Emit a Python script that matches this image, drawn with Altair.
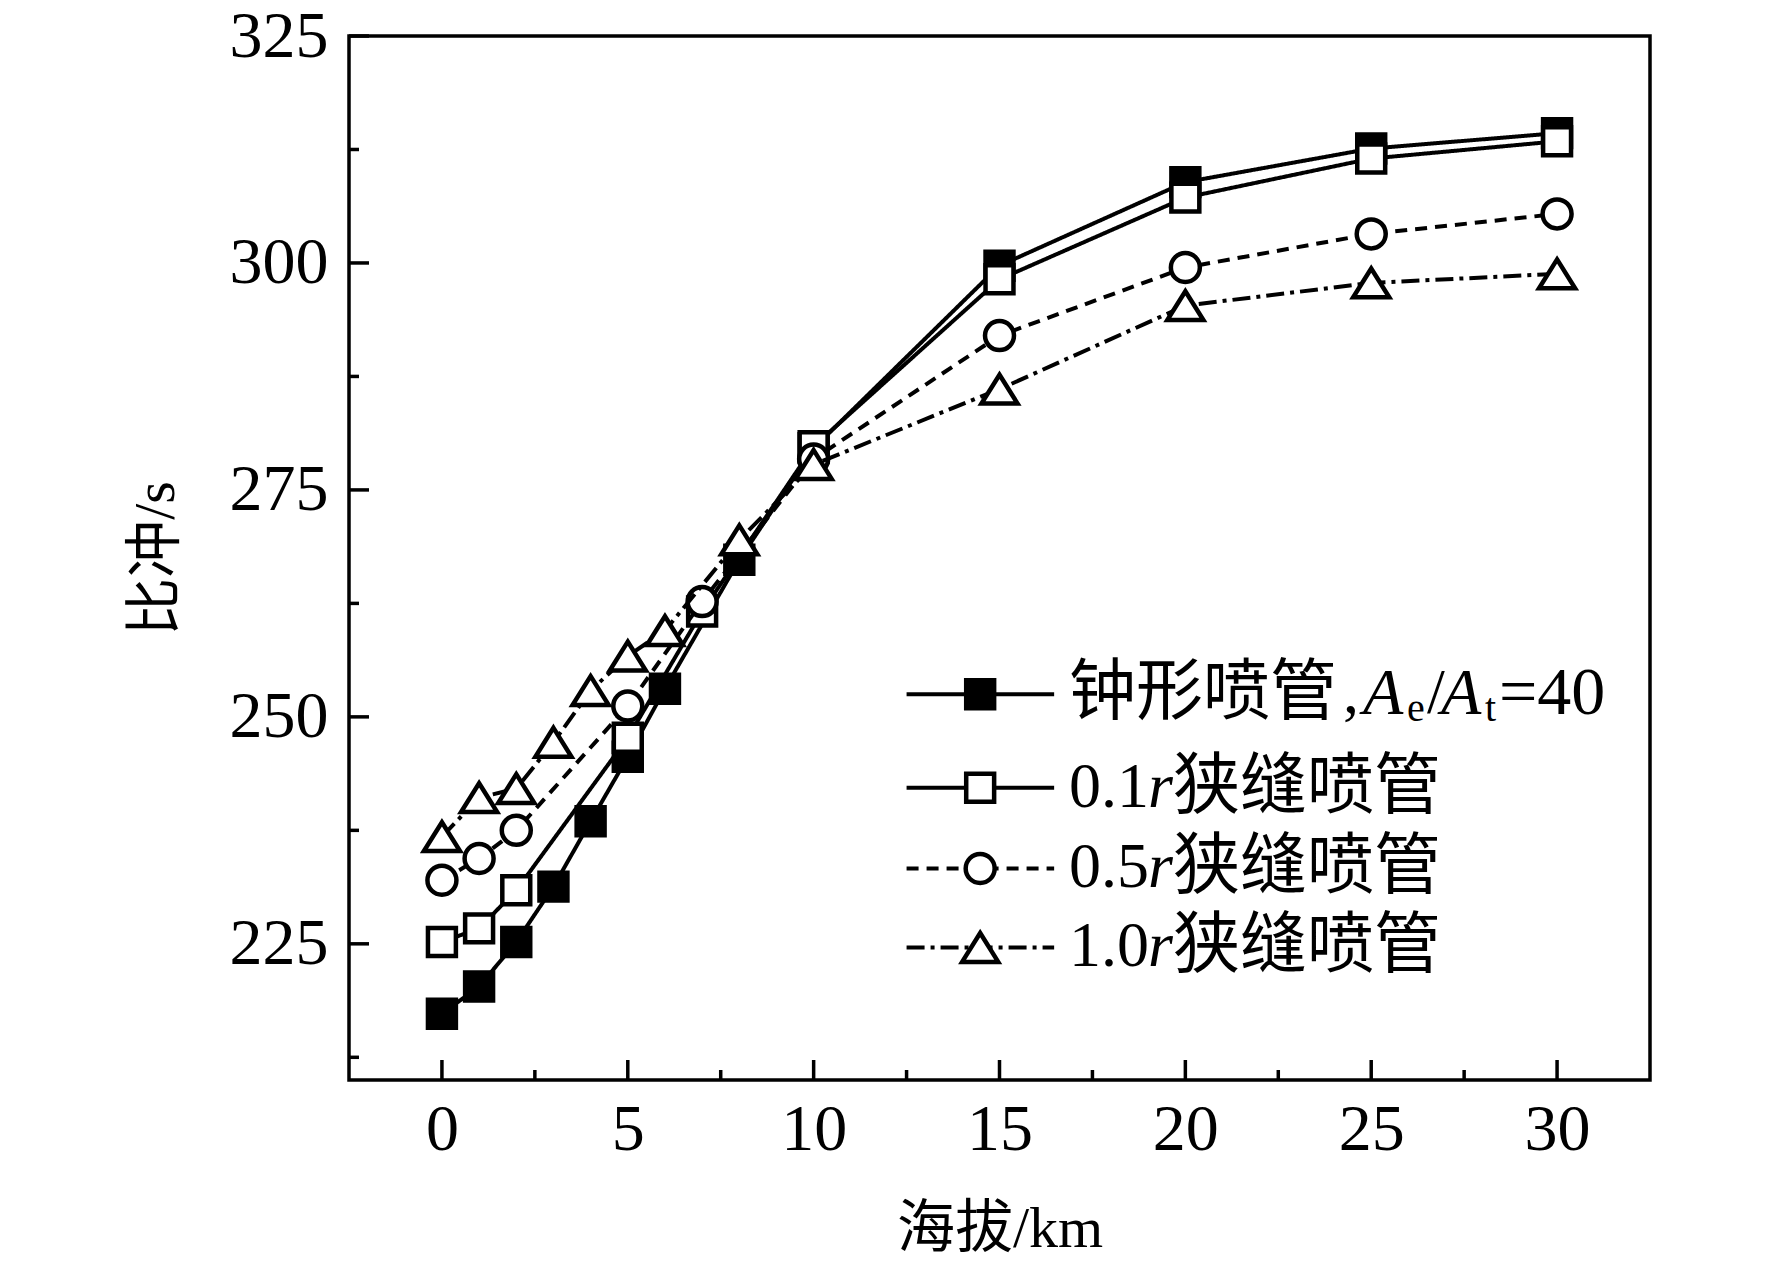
"""Specific impulse vs altitude for bell and slit nozzles."""
import pandas as pd
import altair as alt

# --- data ---
altitude_bell = [0, 1, 2, 3, 4, 5, 6, 8, 10, 15, 20, 25, 30]
isp_bell = [217.3, 220.3, 225.2, 231.3, 238.5, 245.6, 253.1, 267.3, 279.6, 299.7, 308.9, 312.6, 314.3]

altitude_01r = [0, 1, 2, 5, 7, 10, 15, 20, 25, 30]
isp_01r = [225.2, 226.7, 230.9, 247.7, 261.6, 279.8, 298.2, 307.2, 311.5, 313.4]

altitude_05r = [0, 1, 2, 5, 7, 10, 15, 20, 25, 30]
isp_05r = [232.0, 234.4, 237.5, 251.2, 262.7, 278.4, 292.0, 299.5, 303.2, 305.4]

altitude_10r = [0, 1, 2, 3, 4, 5, 6, 8, 10, 15, 20, 25, 30]
isp_10r = [236.8, 241.1, 242.1, 247.2, 252.9, 256.7, 259.5, 269.5, 277.8, 286.1, 295.3, 297.8, 298.8]

x_major = [0, 5, 10, 15, 20, 25, 30]
x_minor = [2.5, 7.5, 12.5, 17.5, 22.5, 27.5]
y_major = [225, 250, 275, 300, 325]
y_minor = [212.5, 237.5, 262.5, 287.5, 312.5]

W, H = 1301, 1044
FONT = "Liberation Serif, Noto Sans CJK SC"
X_SCALE = alt.Scale(domain=[-2.5, 32.5], nice=False, zero=False)
Y_SCALE = alt.Scale(domain=[210, 325], nice=False, zero=False)

TRIANGLE = "M0,-0.8L1,0.8L-1,0.8Z"
LW = 4

styles = {
    "bell": dict(shape="square", fill="black", size=780, dash=[1, 0]),
    "01r": dict(shape="square", fill="white", size=780, dash=[1, 0]),
    "05r": dict(shape="circle", fill="white", size=840, dash=[12, 8]),
    "10r": dict(shape=TRIANGLE, fill="white", size=1300, dash=[18, 6, 4, 6]),
}

series = {
    "bell": (altitude_bell, isp_bell),
    "01r": (altitude_01r, isp_01r),
    "05r": (altitude_05r, isp_05r),
    "10r": (altitude_10r, isp_10r),
}

x_enc = alt.X("alt:Q", scale=X_SCALE, title="海拔/km",
              axis=alt.Axis(values=x_major, ticks=False, domain=False, grid=False,
                            labelFontSize=66, labelPadding=17, labelFont=FONT,
                            titleFontSize=58, titleFont=FONT, titleFontWeight="normal",
                            titlePadding=38, labelColor="black", titleColor="black"))
y_enc = alt.Y("isp:Q", scale=Y_SCALE, title="比冲/s",
              axis=alt.Axis(values=y_major, ticks=False, domain=False, grid=False,
                            labelFontSize=66, labelPadding=21, labelFont=FONT,
                            titleFontSize=58, titleFont=FONT, titleFontWeight="normal",
                            titlePadding=44, labelColor="black", titleColor="black"))


def series_layers(key):
    xs, ys = series[key]
    df = pd.DataFrame({"alt": xs, "isp": ys})
    st = styles[key]
    line = alt.Chart(df).mark_line(color="black", strokeWidth=LW, strokeDash=st["dash"]).encode(
        x=x_enc, y=y_enc)
    pts = alt.Chart(df).mark_point(shape=st["shape"], size=st["size"], filled=True,
                                   fill=st["fill"], stroke="black", strokeWidth=4.5,
                                   opacity=1).encode(x="alt:Q", y="isp:Q")
    return [line, pts]


layers = []
for k in ["bell", "01r", "05r", "10r"]:
    layers += series_layers(k)

# --- inward ticks ---
tick_style = dict(color="black", strokeWidth=3.5)
xt_major = alt.Chart(pd.DataFrame({"alt": x_major})).mark_rule(**tick_style).encode(
    x="alt:Q", y=alt.value(H), y2=alt.value(H - 20))
xt_minor = alt.Chart(pd.DataFrame({"alt": x_minor})).mark_rule(**tick_style).encode(
    x="alt:Q", y=alt.value(H), y2=alt.value(H - 10))
yt_major = alt.Chart(pd.DataFrame({"isp": y_major})).mark_rule(**tick_style).encode(
    y="isp:Q", x=alt.value(0), x2=alt.value(20))
yt_minor = alt.Chart(pd.DataFrame({"isp": y_minor})).mark_rule(**tick_style).encode(
    y="isp:Q", x=alt.value(0), x2=alt.value(10))
layers += [xt_major, xt_minor, yt_major, yt_minor]

# --- hand-built legend (placed in data coordinates) ---
legend_rows = [252.5, 242.2, 233.3, 224.6]
legend_keys = ["bell", "01r", "05r", "10r"]
LX0, LX1, LXM, LXT = 12.5, 16.47, 14.48, 16.87

for key, ly in zip(legend_keys, legend_rows):
    st = styles[key]
    seg = pd.DataFrame({"alt": [LX0], "alt2": [LX1], "isp": [ly]})
    layers.append(alt.Chart(seg).mark_rule(color="black", strokeWidth=LW, strokeDash=st["dash"]).encode(
        x="alt:Q", x2="alt2:Q", y="isp:Q"))
    mk = pd.DataFrame({"alt": [LXM], "isp": [ly]})
    layers.append(alt.Chart(mk).mark_point(shape=st["shape"], size=st["size"], filled=True,
                                           fill=st["fill"], stroke="black", strokeWidth=4.5,
                                           opacity=1).encode(x="alt:Q", y="isp:Q"))

# label pieces: (row, text, dx, dy, italic, size)
label_pieces = [
    (0, "钟形喷管", 0, 0, False, 67),
    (0, ",", 274, 0, False, 64),
    (0, "A", 294, 0, True, 66),
    (0, "e", 338, 15, False, 40),
    (0, "/", 358, 0, False, 64),
    (0, "A", 372, 0, True, 66),
    (0, "t", 416, 15, False, 40),
    (0, "=40", 430, 0, False, 68),
    (1, "0.1", 0, 0, False, 64),
    (1, "r", 79, 0, True, 64),
    (1, "狭缝喷管", 104, 0, False, 67),
    (2, "0.5", 0, 0, False, 64),
    (2, "r", 79, 0, True, 64),
    (2, "狭缝喷管", 104, 0, False, 67),
    (3, "1.0", 0, 0, False, 64),
    (3, "r", 79, 0, True, 64),
    (3, "狭缝喷管", 104, 0, False, 67),
]
for row, txt, dx, dy, italic, size in label_pieces:
    tdf = pd.DataFrame({"alt": [LXT], "isp": [legend_rows[row]], "label": [txt]})
    layers.append(alt.Chart(tdf).mark_text(
        align="left", baseline="middle", dx=dx, dy=dy, font=FONT, fontSize=size,
        fontStyle="italic" if italic else "normal", color="black").encode(
        x="alt:Q", y="isp:Q", text="label:N"))

chart = alt.layer(*layers).properties(
    width=W, height=H,
    autosize=alt.AutoSizeParams(type="none"),
    padding={"left": 341, "top": 28, "right": 100, "bottom": 179},
).configure(background="white").configure_view(stroke="black", strokeWidth=3.5)

chart.save("out.html", embed_options={"renderer": "svg", "actions": False})
